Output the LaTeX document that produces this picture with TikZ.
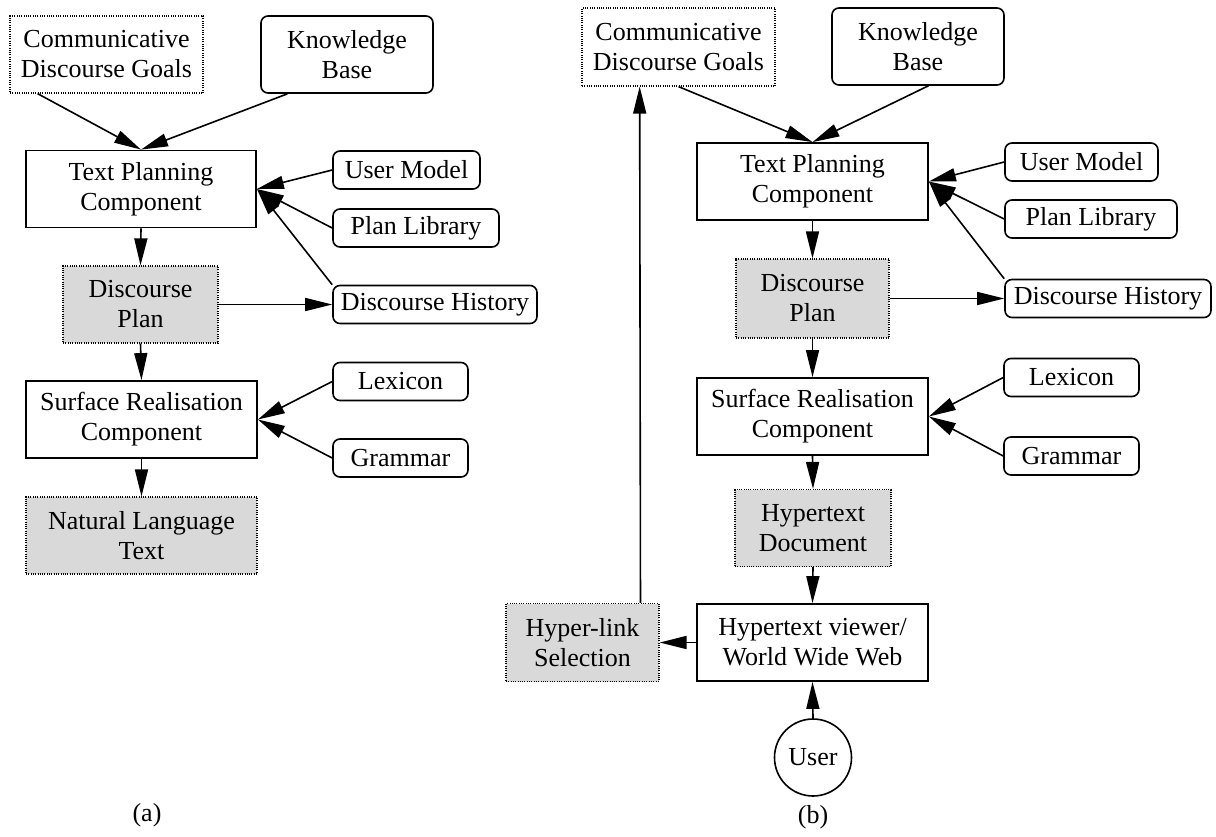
\documentclass[tikz,border=0pt]{standalone}
\usepackage{fontspec}
\setmainfont{Liberation Serif}
\usetikzlibrary{arrows.meta,calc}

\begin{document}
\begin{tikzpicture}[x=1pt,y=-1pt,
  every node/.style={inner sep=0pt, align=center, font=\fontsize{26}{30}\selectfont},
  comp/.style={draw, line width=1.8pt, minimum width=231, minimum height=77},
  store/.style={draw, rounded corners=7pt, line width=1.6pt, minimum height=38},
  goal/.style={draw, line width=1.2pt, dash pattern=on 1pt off 1.3pt},
  result/.style={goal, fill=gray!30},
  link/.style={line width=1.6pt, -{Triangle[length=27pt,width=13pt]}}]
\useasboundingbox (0,0) rectangle (1216,836);
% (a) text planning pipeline
\node [goal, minimum width=193, minimum height=77] (cdgA) at (106.5,54.5) {Communicative\\Discourse Goals};
\node [store, minimum width=172, minimum height=77] (kbA) at (347,54.5) {Knowledge\\Base};
\node [comp, minimum width=230] (tpcA) at (141,189) {Text Planning\\Component};
\node [store, minimum width=147] (umA) at (406.5,170) {User Model};
\node [store, minimum width=166] (plA) at (416,228) {Plan Library};
\node [store, minimum width=204] (dhA) at (435,304.5) {Discourse History};
\node [result, minimum width=155, minimum height=77] (dpA) at (140.5,304.5) {Discourse\\Plan};
\node [comp] (srcA) at (141.5,419.5) {Surface Realisation\\Component};
\node [store, minimum width=135] (lexA) at (400.5,381.5) {Lexicon};
\node [store, minimum width=135] (gramA) at (400.5,458) {Grammar};
\node [result, minimum width=231, minimum height=77] (nltA) at (141.5,535.5) {Natural Language\\Text};
\node (labA) at (147,815) {(a)};
\draw [link] ($(cdgA.south west)!0.145!(cdgA.south east)$) -- (tpcA.north);
\draw [link] ($(kbA.south west)!0.157!(kbA.south east)$) -- (tpcA.north);
\draw [link] (umA.west) -- (tpcA.east);
\draw [link] (plA.west) -- (tpcA.east);
\draw [link] (dhA.north west) -- (tpcA.east);
\draw [link] (tpcA.south) -- (dpA.north);
\draw [link] (dpA.east) -- (dhA.west);
\draw [link] (dpA.south) -- (srcA.north);
\draw [link] (lexA.west) -- (srcA.east);
\draw [link] (gramA.west) -- (srcA.east);
\draw [link] (srcA.south) -- (nltA.north);
% (b) hypertext version
\node [goal, minimum width=193, minimum height=78] (cdgB) at (678.5,47) {Communicative\\Discourse Goals};
\node [store, minimum width=172, minimum height=77] (kbB) at (918,46.5) {Knowledge\\Base};
\node [comp] (tpcB) at (812.5,181.5) {Text Planning\\Component};
\node [store, minimum width=153] (umB) at (1081.5,162) {User Model};
\node [store, minimum width=172] (plB) at (1091,219) {Plan Library};
\node [store, minimum width=206] (dhB) at (1108,298.5) {Discourse History};
\node [result, minimum width=153, minimum height=79] (dpB) at (812.5,298.5) {Discourse\\Plan};
\node [comp] (srcB) at (812.5,416.5) {Surface Realisation\\Component};
\node [store, minimum width=135] (lexB) at (1071.5,377.5) {Lexicon};
\node [store, minimum width=135] (gramB) at (1071.5,456) {Grammar};
\node [result, minimum width=156, minimum height=77] (hdB) at (813,528) {Hypertext\\Document};
\node [comp] (hvB) at (812.5,642.5) {Hypertext viewer/\\World Wide Web};
\node [result, minimum width=153, minimum height=78] (hsB) at (582.5,642.5) {Hyper-link\\Selection};
\node [circle, draw, line width=1.6pt, minimum size=77] (userB) at (813,757.5) {User};
\node (labB) at (813,817) {(b)};
\draw [link] (cdgB.south) -- (tpcB.north);
\draw [link] ($(kbB.south west)!0.56!(kbB.south east)$) -- (tpcB.north);
\draw [link] (umB.west) -- (tpcB.east);
\draw [link] (plB.west) -- (tpcB.east);
\draw [link] (dhB.north west) -- (tpcB.east);
\draw [link] (tpcB.south) -- (dpB.north);
\draw [link] (dpB.east) -- (dhB.west);
\draw [link] (dpB.south) -- (srcB.north);
\draw [link] (lexB.west) -- (srcB.east);
\draw [link] (gramB.west) -- (srcB.east);
\draw [link] (srcB.south) -- (hdB.north);
\draw [link] (hdB.south) -- (hvB.north);
\draw [link] (userB.north) -- (hvB.south);
\draw [link] (hvB.west) -- (hsB.east);
\draw [link] ($(hsB.north west)!0.876!(hsB.north east)$) -- ($(cdgB.south west)!0.30!(cdgB.south east)$);
\end{tikzpicture}
\end{document}
